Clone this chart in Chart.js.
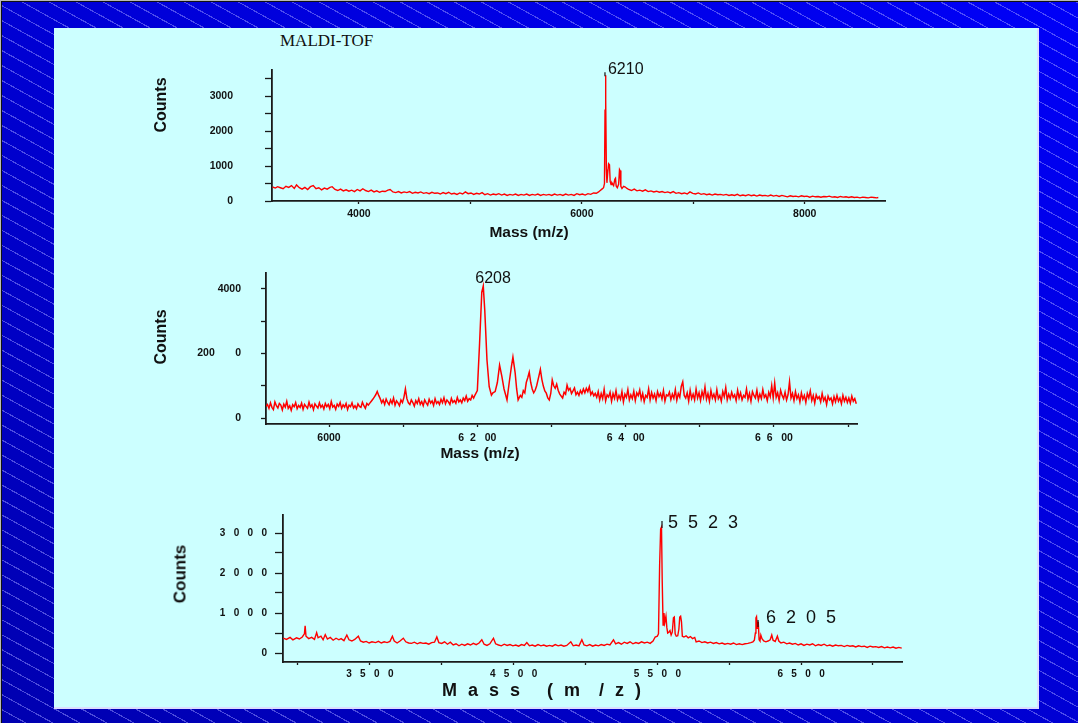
<!DOCTYPE html>
<html><head><meta charset="utf-8">
<script src="https://cdn.jsdelivr.net/npm/chart.js@4.4.1/dist/chart.umd.min.js"></script>
<style>
html,body{margin:0;padding:0;}
body{width:1078px;height:723px;overflow:hidden;position:relative;
 background:
  repeating-linear-gradient(29deg, rgba(0,0,0,0) 0px, rgba(0,0,0,0) 12px, rgba(150,150,255,0.5) 12px, rgba(150,150,255,0.5) 13.1px),
  linear-gradient(to bottom left, #0000f8, #0000b0);}
.ft{position:absolute;left:0;top:0;width:1078px;height:1px;background:#b8b8b8}
.ft2{position:absolute;left:1px;top:1px;width:1077px;height:1px;background:#111}
.fl{position:absolute;left:0;top:0;width:1px;height:723px;background:#b8b8b8}
.fl2{position:absolute;left:1px;top:1px;width:1px;height:722px;background:#111}
.panel{position:absolute;left:54px;top:28px;width:983px;height:679px;background:#ccffff;border-right:2px solid #dcdcff;border-bottom:2px solid #dcdcff;}
.box{position:absolute}
.lbl{position:absolute;font-family:'Liberation Sans',Arial,sans-serif;font-weight:bold;color:#111;white-space:pre;line-height:1}
</style></head>
<body>
<div class="ft"></div><div class="ft2"></div><div class="fl"></div><div class="fl2"></div>
<div class="panel"></div>
<div class="lbl" style="left:280px;top:40px;transform:translateY(-50%);font-family:'Liberation Serif','Times New Roman',serif;font-weight:normal;font-size:17px;">MALDI-TOF</div>

<div class="box" style="left:140px;top:60px;width:760px;height:170px;"><canvas id="c1" width="760" height="170"></canvas></div>
<div class="box" style="left:140px;top:265px;width:730px;height:200px;"><canvas id="c2" width="730" height="200"></canvas></div>
<div class="box" style="left:160px;top:505px;width:760px;height:180px;"><canvas id="c3" width="760" height="180"></canvas></div>

<div class="lbl" style="left:161px;top:105px;font-size:16px;transform:translate(-50%,-50%) rotate(-90deg);">Counts</div>
<div class="lbl" style="left:529px;top:232px;font-size:15.5px;transform:translate(-50%,-50%);">Mass (m/z)</div>
<div class="lbl" style="left:161px;top:337px;font-size:16px;transform:translate(-50%,-50%) rotate(-90deg);">Counts</div>
<div class="lbl" style="left:480px;top:453px;font-size:15.5px;transform:translate(-50%,-50%);">Mass (m/z)</div>
<div class="lbl" style="left:180px;top:574px;font-size:17px;transform:translate(-50%,-50%) rotate(-90deg);">Counts</div>
<div class="lbl" style="left:442px;top:690px;font-size:18px;letter-spacing:3px;transform:translateY(-50%);">M a s s   ( m  / z )</div>

<script>
// ---------- Spectrum 1 ----------
const mass1 = [
3225,3250,3270,3295,3320,3345,3370,3395,3420,3440,
3465,3490,3515,3540,3565,3590,3615,3640,3665,3690,
3715,3740,3760,3785,3810,3835,3860,3885,3910,3935,
3960,3985,4010,4035,4060,4085,4110,4135,4160,4185,
4210,4235,4260,4280,4305,4330,4355,4380,4405,4430,
4455,4480,4505,4530,4555,4580,4605,4630,4655,4680,
4705,4730,4755,4780,4805,4830,4855,4880,4905,4930,
4955,4980,5005,5030,5055,5080,5105,5130,5155,5180,
5205,5230,5255,5280,5305,5330,5355,5380,5405,5430,
5455,5480,5505,5530,5555,5580,5605,5630,5655,5680,
5705,5730,5755,5780,5805,5830,5855,5880,5905,5930,
5955,5980,6005,6030,6055,6080,6105,6130,6150,6165,
6180,6195,6203,6208,6212,6216,6220,6225,6232,6240,
6248,6254,6262,6270,6285,6296,6302,6308,6318,6330,
6338,6343,6350,6360,6375,6390,6405,6420,6445,6470,
6495,6520,6545,6570,6595,6620,6645,6670,6695,6720,
6745,6770,6795,6820,6845,6870,6895,6920,6945,6970,
6995,7020,7045,7070,7095,7120,7145,7170,7195,7220,
7245,7270,7295,7320,7345,7370,7395,7420,7445,7470,
7495,7520,7545,7570,7595,7620,7645,7670,7695,7720,
7745,7770,7795,7820,7845,7870,7895,7920,7945,7970,
7995,8020,8045,8070,8095,8120,8145,8170,8195,8220,
8245,8270,8295,8320,8345,8370,8395,8420,8445,8470,
8495,8520,8545,8570,8595,8620,8645,8660];
const counts1 = [
400,370,410,380,350,420,390,440,360,460,
380,340,390,330,410,440,350,380,320,370,
340,390,410,330,300,340,290,320,280,310,
270,330,290,350,300,270,310,260,290,250,
280,270,310,330,260,240,270,230,260,240,
270,220,250,230,260,220,240,210,250,220,
230,200,240,210,250,200,220,190,230,200,
260,210,230,190,220,200,240,180,210,170,
200,180,210,170,200,160,190,170,200,160,
190,170,200,160,190,170,200,160,190,170,
190,160,200,170,190,160,200,170,190,160,
210,180,200,170,210,190,230,220,260,300,
340,380,500,2600,3600,2900,900,520,800,1070,
1040,560,470,520,440,620,650,430,380,480,
900,870,420,360,420,400,360,330,300,340,
290,310,280,320,270,290,260,280,250,270,
240,260,230,270,220,240,210,230,200,260,
220,200,230,190,210,180,200,170,200,180,
190,170,190,160,180,160,190,150,170,150,
180,150,170,140,170,150,160,140,170,140,
160,130,160,140,120,150,130,140,120,150,
130,140,110,140,120,130,110,130,120,140,
110,120,100,130,110,120,100,120,100,110,
90,110,100,90,110,100,90,100];
const xTicks1 = [4000,5000,6000,7000,8000];
const xLabels1 = ['4000','','6000','','8000'];
const yTicks1 = [0,500,1000,1500,2000,2500,3000,3500];
const yLabels1 = ['0','','1000','','2000','','3000',''];
const peakText1 = ['6210'];
const peakMass1 = [6212];
const peakCounts1 = [3600];

// ---------- Spectrum 2 ----------
const mass2 = [
5915,5917,5919,5921,5923,5925,5927,5929,5931,5933,
5935,5937,5939,5941,5943,5945,5947,5949,5951,5953,
5955,5957,5959,5961,5963,5965,5967,5969,5971,5973,
5975,5977,5979,5981,5983,5985,5987,5989,5991,5993,
5995,5997,5999,6001,6003,6005,6007,6009,6011,6013,
6015,6017,6019,6021,6023,6025,6027,6029,6031,6033,
6035,6037,6039,6041,6043,6045,6047,6049,6051,6053,
6055,
6057,6059,6061,6063,6065,6067,6069,6071,6073,6075,
6077,6079,6081,6083,6085,6087,6089,6091,6093,6095,
6097,6099,6101,6103,6105,6107,6109,6111,6113,6115,
6117,6119,6121,6123,6125,6127,6129,6131,6133,6135,
6137,6139,6141,6143,6145,6147,6149,6151,6153,6155,
6157,6159,6161,6163,6165,6167,6169,6171,6173,6175,
6177,6179,6181,6183,6185,6187,6189,6191,6193,6195,
6197,
6200,6203,6206,6208,6210,6213,6216,6219,6221,6224,
6227,6230,6233,6236,6240,6243,6246,6248,6251,6253,
6255,6258,6260,6262,6264,6266,6268,6270,6272,6274,
6276,6278,6280,6283,6285,6287,6289,6291,6293,6295,
6297,6299,6301,6303,6305,6307,6309,6311,6313,6315,
6317,6319,6321,6323,6325,6327,6329,6331,6333,6335,
6337,6339,6341,6343,6345,6347,6349,6351,6353,6355,
6357,6359,
6361,6363,6365,6367,6369,6371,6373,6375,6377,6379,
6381,6383,6385,6387,6389,6391,6393,6395,6397,6399,
6401,6403,6405,6407,6409,6411,6413,6415,6417,6419,
6421,6423,6425,6427,6429,6431,6433,6435,6437,6439,
6441,6443,6445,6447,6449,6451,6453,6455,6457,6459,
6461,6463,6465,6467,6469,6471,6473,6475,6477,6479,
6481,6483,6485,6487,6489,6491,6493,6495,6497,6499,
6501,6503,6505,6507,6509,6511,6513,6515,6517,6519,
6521,6523,6525,6527,6529,6531,6533,6535,6537,6539,
6541,6543,6545,6547,6549,6551,6553,6555,6557,6559,
6561,6563,6565,6567,6569,6571,6573,6575,6577,6579,
6581,6583,6585,6587,6589,6591,6593,6595,6597,6599,
6601,6603,6605,6607,6609,6611,6613,6615,6617,6619,
6621,6623,6625,6627,6629,6631,6633,6635,6637,6639,
6641,6643,6645,6647,6649,6651,6653,6655,6657,6659,
6661,6663,6665,6667,6669,6671,6673,6675,6677,6679,
6681,6683,6685,6687,6689,6691,6693,6695,6697,6699,
6701,6703,6705,6707,6709,6711];
const counts2 = [
360,420,300,470,330,260,500,380,310,450,
400,250,430,340,520,300,380,240,410,350,
480,290,390,330,460,270,420,360,300,490,
340,410,260,440,370,310,470,330,400,280,
450,350,420,290,510,340,390,270,430,360,
480,300,410,340,450,260,400,350,470,310,
380,290,440,360,330,490,380,300,450,400,
460,
520,580,650,720,820,700,600,470,560,420,
590,480,410,560,450,620,400,530,470,380,
560,480,640,900,600,470,420,560,480,370,
540,450,600,420,510,380,560,470,400,580,
460,530,390,600,450,510,420,580,470,630,
440,560,500,420,610,480,540,460,640,500,
560,470,620,540,680,520,600,560,700,620,
720,
850,2300,3900,4090,3350,1800,970,710,780,820,
1100,1640,1300,900,560,1100,1600,1890,1400,900,
560,700,640,850,780,1100,1250,1420,1100,900,
780,860,1000,1300,1510,1200,990,840,770,620,
560,760,1180,1000,920,1050,860,750,680,620,
800,740,1020,860,920,760,840,930,720,800,
700,850,760,900,780,920,820,970,720,810,
690,760,
640,820,560,760,600,890,530,720,650,800,
520,760,610,850,560,700,580,820,500,740,
640,880,560,720,600,830,540,780,690,870,
580,760,510,700,640,900,560,790,620,740,
540,820,660,760,590,850,520,720,680,800,
570,740,610,880,550,760,640,980,1120,700,
620,780,520,860,600,740,560,900,620,780,
540,820,640,960,580,760,520,850,620,740,
560,880,600,700,520,820,660,940,560,740,
600,800,640,720,540,860,620,780,560,700,
640,900,580,760,520,820,700,620,860,560,
740,600,880,640,720,540,800,660,1000,620,
1080,640,780,540,860,700,600,800,560,720,
1120,620,760,540,820,600,720,500,780,580,
700,480,760,620,840,540,700,460,720,600,
660,500,760,540,640,420,680,560,620,440,
660,500,700,520,620,440,700,520,640,480,
620,460,680,520,600,440];
const xTicks2 = [6000,6100,6200,6300,6400,6500,6600,6700];
const xLabels2 = ['6000','','6  2   00','','6  4   00','','6  6   00',''];
const yTicks2 = [0,1000,2000,3000,4000];
const yLabels2 = ['0','','200       0','','4000'];
const peakText2 = ['6208'];
const peakMass2 = [6208];
const peakCounts2 = [4090];

// ---------- Spectrum 3 ----------
const mass3 = [
2898,2920,2945,2965,2990,3010,3030,3045,3050,3056,
3075,3095,3115,3130,3140,3160,3175,3190,3205,3225,
3245,3265,3285,3300,3320,3340,3355,3375,3395,3420,
3435,3455,3475,3495,3515,3540,3560,3580,3600,3620,
3640,3657,3670,3690,3710,3733,3750,3770,3790,3810,
3830,3850,3870,3890,3910,3930,3950,3966,3980,4000,
4020,4040,4060,4080,4100,4120,4140,4160,4180,4200,
4220,4240,4260,4279,4295,4315,4335,4360,4375,4395,
4415,4435,4455,4475,4495,4515,4535,4555,4575,4592,
4610,4630,4650,4670,4690,4710,4730,4750,4770,4790,
4810,4830,4850,4870,4898,4915,4935,4955,4975,4990,
5010,5030,5050,5070,5090,5110,5130,5150,5170,5195,
5210,5230,5250,5270,5290,5310,5330,5350,5370,5390,
5410,5430,5450,5470,5485,5500,5508,5516,5523,5529,
5534,5540,5546,5552,5560,5566,5572,5580,5588,5596,
5604,5612,5618,5624,5632,5642,5650,5656,5662,5668,
5674,5685,5700,5715,5730,5745,5760,5770,5790,5810,
5830,5850,5870,5890,5910,5930,5950,5970,5990,6010,
6030,6050,6070,6090,6110,6130,6150,6165,6175,6182,
6186,6190,6196,6202,6208,6214,6220,6228,6240,6255,
6270,6285,6296,6305,6320,6335,6345,6360,6380,6400,
6420,6440,6460,6480,6500,6520,6540,6560,6580,6600,
6620,6640,6660,6680,6700,6720,6740,6760,6780,6800,
6820,6840,6860,6880,6900,6920,6940,6960,6980,7000,
7020,7040,7060,7080,7100,7120,7140,7160,7180,7200];
const counts3 = [
370,340,390,330,380,350,400,480,680,420,
360,390,340,510,380,420,330,460,350,390,
320,370,330,360,310,450,330,300,340,420,
300,270,290,250,280,260,290,250,280,260,
290,420,300,250,300,370,280,250,240,270,
230,260,240,250,220,260,270,400,260,240,
280,220,270,200,230,180,220,190,230,200,
240,210,250,330,220,190,230,370,230,200,
180,220,190,210,180,200,170,210,190,260,
180,200,170,210,180,200,170,190,170,210,
180,200,170,190,280,180,200,180,330,200,
180,210,170,200,180,210,190,220,200,330,
230,260,220,270,240,280,230,260,240,280,
250,270,240,300,400,420,480,2200,3100,3150,
1800,700,1000,760,920,640,500,520,560,450,
520,880,900,480,420,430,600,900,920,780,
420,400,430,380,410,360,390,280,300,260,
280,250,270,240,260,230,250,220,240,220,
250,210,230,210,230,240,260,280,320,500,
880,910,600,780,330,300,450,360,300,280,
300,330,450,320,290,420,300,250,270,230,
250,220,240,200,230,190,220,200,230,180,
210,190,220,180,200,170,200,180,190,160,
190,170,180,150,180,160,170,140,170,150,
160,140,160,130,150,130,150,120,140,120];
const xTicks3 = [3000,3500,4000,4500,5000,5500,6000,6500,7000];
const xLabels3 = ['','3   5   0   0','','4   5   0   0','','5   5   0   0','','6   5   0   0',''];
const yTicks3 = [0,500,1000,1500,2000,2500,3000];
const yLabels3 = ['0','','1   0   0   0','','2   0   0   0','','3   0   0   0'];
const peakText3 = ['5  5  2  3','6  2  0  5'];
const peakMass3 = [5529,6190];
const peakCounts3 = [3150,910];

// ---------- drawing ----------
const AXIS = '#1a1a1a';
const FONT = "'Liberation Sans', Arial, sans-serif";

const peakLabelPlugin = {
  id: 'peakLabels',
  afterDatasetsDraw(chart, args, opts) {
    const ctx = chart.ctx, xs = chart.scales.x, ys = chart.scales.y;
    ctx.save();
    opts.text.forEach((t, i) => {
      const px = xs.getPixelForValue(opts.mass[i]);
      const py = ys.getPixelForValue(opts.counts[i]);
      const st = opts.style[i];
      if (st.marker) {
        ctx.strokeStyle = '#111'; ctx.lineWidth = 1.2;
        ctx.beginPath();
        ctx.moveTo(px + st.marker[0], py + st.marker[1]);
        ctx.lineTo(px + st.marker[0], py + st.marker[2]);
        ctx.stroke();
      }
      ctx.font = opts.font; ctx.fillStyle = '#111';
      ctx.textAlign = 'left'; ctx.textBaseline = 'middle';
      ctx.fillText(t, px + st.dx, py + st.dy);
    });
    ctx.restore();
  }
};

function makeChart(id, d) {
  return new Chart(document.getElementById(id), {
    type: 'line',
    data: { datasets: [{
      data: d.mass.map((m, i) => ({ x: m, y: d.counts[i] })),
      borderColor: '#ff0000', borderWidth: d.lw, pointRadius: 0, tension: 0, fill: false
    }]},
    options: {
      responsive: false, animation: false, events: [],
      layout: { padding: d.pad },
      plugins: { legend: { display: false }, tooltip: { enabled: false },
        peakLabels: { text: d.peakText, mass: d.peakMass, counts: d.peakCounts, style: d.peakStyle, font: d.peakFont } },
      scales: {
        x: {
          type: 'linear', min: d.xr[0], max: d.xr[1],
          afterFit: s => { s.height = d.xh; s.paddingLeft = 0; s.paddingRight = 0; },
          afterBuildTicks: s => { s.ticks = d.xTicks.map(v => ({ value: v })); },
          ticks: { callback: (v, i) => d.xLabels[i], autoSkip: false, maxRotation: 0, minRotation: 0,
                   padding: d.xpad, color: '#111', font: { family: FONT, size: d.fs, weight: 'bold' } },
          grid: { display: true, drawOnChartArea: false, drawTicks: true, tickLength: d.xtl, tickColor: AXIS, tickWidth: 1.3 },
          border: { display: true, color: AXIS, width: 1.8 }
        },
        y: {
          type: 'linear', min: d.yr[0], max: d.yr[1],
          afterFit: s => { s.width = d.yw; s.paddingTop = 0; s.paddingBottom = 0; },
          afterBuildTicks: s => { s.ticks = d.yTicks.map(v => ({ value: v })); },
          ticks: { callback: (v, i) => d.yLabels[i], autoSkip: false, padding: d.ypad, crossAlign: 'near',
                   color: '#111', font: { family: FONT, size: d.fs, weight: 'bold' } },
          grid: { display: true, drawOnChartArea: false, drawTicks: true, tickLength: d.ytl, tickColor: AXIS, tickWidth: 1.3 },
          border: { display: true, color: AXIS, width: 1.8 }
        }
      }
    },
    plugins: [peakLabelPlugin]
  });
}

makeChart('c1', {
  mass: mass1, counts: counts1, lw: 1.4,
  pad: { top: 10, right: 15, left: 0, bottom: 0 },
  xr: [3220, 8720], yr: [0, 3750], xh: 29, yw: 132,
  xTicks: xTicks1, xLabels: xLabels1, yTicks: yTicks1, yLabels: yLabels1,
  xpad: 4, ypad: 32, xtl: 3, ytl: 7, fs: 10.5,
  peakText: peakText1, peakMass: peakMass1, peakCounts: peakCounts1,
  peakStyle: [{ dx: 2.5, dy: -6, marker: [-0.5, -3, 1] }],
  peakFont: "16px " + FONT
});

makeChart('c2', {
  mass: mass2, counts: counts2, lw: 1.5,
  pad: { top: 8, right: 13, left: 0, bottom: 0 },
  xr: [5915, 6712], yr: [-186, 4496], xh: 41, yw: 126,
  xTicks: xTicks2, xLabels: xLabels2, yTicks: yTicks2, yLabels: yLabels2,
  xpad: 5, ypad: 20, xtl: 3, ytl: 5, fs: 10.5,
  peakText: peakText2, peakMass: peakMass2, peakCounts: peakCounts2,
  peakStyle: [{ dx: -8, dy: -8 }],
  peakFont: "16px " + FONT
});

makeChart('c3', {
  mass: mass3, counts: counts3, lw: 1.4,
  pad: { top: 10, right: 18, left: 0, bottom: 0 },
  xr: [2896, 7202], yr: [-225, 3450], xh: 23, yw: 123,
  xTicks: xTicks3, xLabels: xLabels3, yTicks: yTicks3, yLabels: yLabels3,
  xpad: 3, ypad: 8, xtl: 3, ytl: 8, fs: 10,
  peakText: peakText3, peakMass: peakMass3, peakCounts: peakCounts3,
  peakStyle: [{ dx: 6.5, dy: -4, marker: [0.5, -6, 1] }, { dx: 9.5, dy: 1.5, marker: [1.5, 3.5, 10.5] }],
  peakFont: "18px " + FONT
});
</script>
</body></html>
